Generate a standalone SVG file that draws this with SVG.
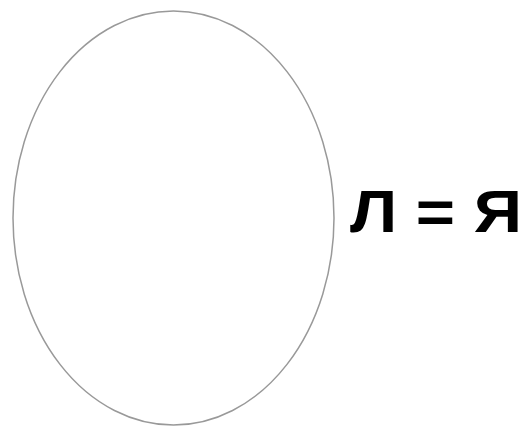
<svg xmlns="http://www.w3.org/2000/svg" width="529" height="434" viewBox="0 0 529 434">
<style>
.shape{fill:#ffffff;stroke:#999999;stroke-width:1.5}
.lbl{font-family:"Liberation Sans",Arial,sans-serif;font-weight:bold;font-size:60px;fill:#000000}
</style>
<rect width="529" height="434" fill="#ffffff"/>
<g id="ellipse"><ellipse class="shape" cx="173.5" cy="218" rx="160.5" ry="207"/></g>
<g id="label"><text class="lbl" x="350" y="232" textLength="172" lengthAdjust="spacingAndGlyphs">Л = Я</text></g>
</svg>
